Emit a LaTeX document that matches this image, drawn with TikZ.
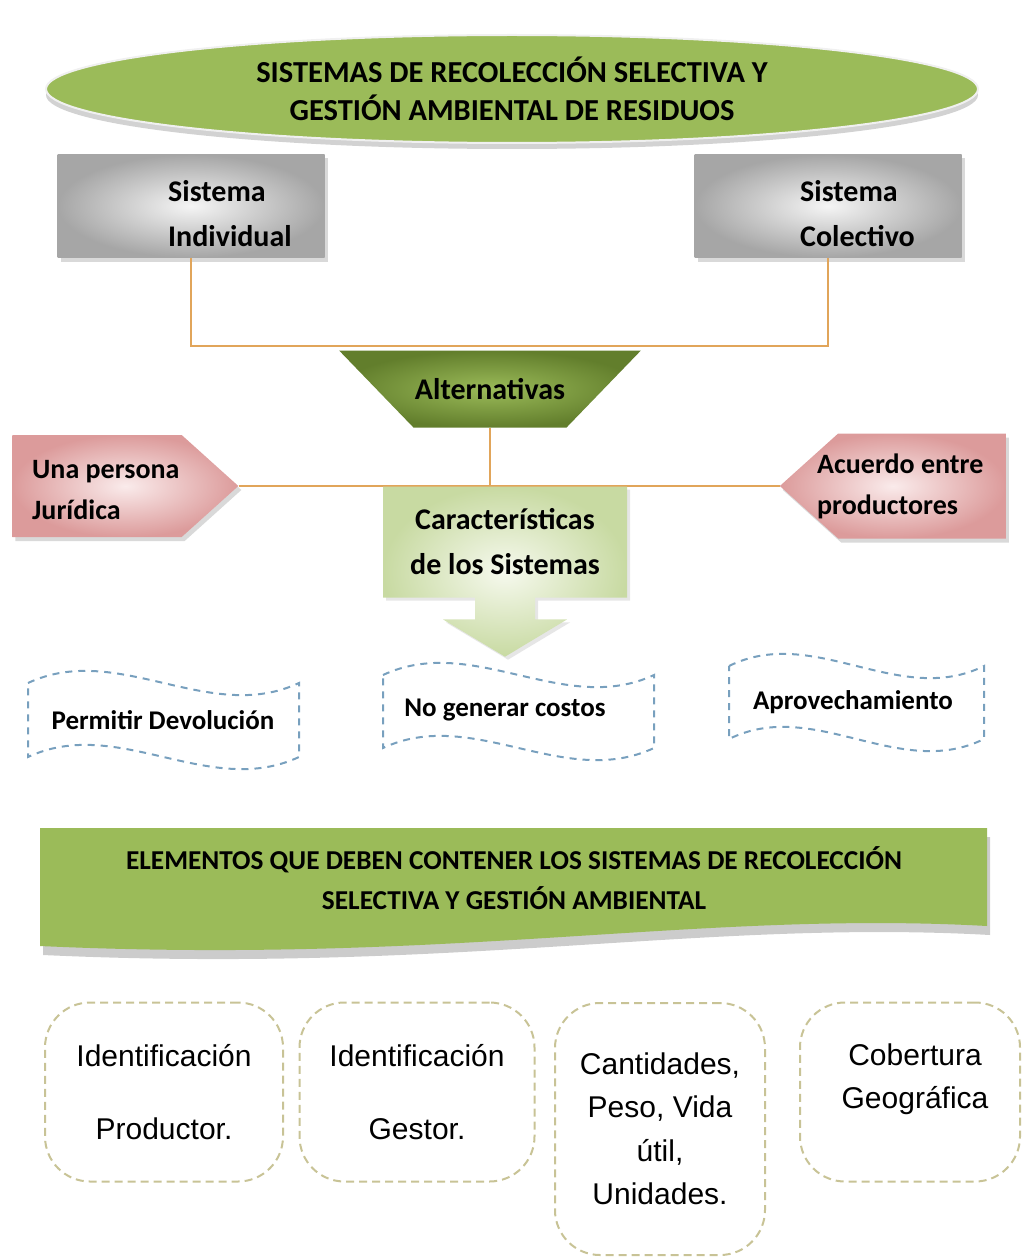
\documentclass[tikz,border=0pt]{standalone}
\usepackage{fontspec}
\setmainfont{Carlito}
\newfontfamily\arialfont{Liberation Sans}
\usetikzlibrary{shapes.geometric,shapes.symbols,shapes.arrows,shadows,positioning}
\definecolor{oliva}{RGB}{155,187,89}
\definecolor{olivaosc}{RGB}{98,126,44}
\definecolor{rosa}{RGB}{220,155,155}
\definecolor{rosaclaro}{RGB}{250,235,235}
\definecolor{verdeclaro}{RGB}{200,218,162}
\definecolor{verdeblanco}{RGB}{246,249,238}
\definecolor{linkc}{RGB}{225,165,90}
\definecolor{azulonda}{RGB}{120,160,190}
\definecolor{caqui}{RGB}{200,195,150}

\begin{document}
\begin{tikzpicture}[x=1pt,y=-1pt,
every node/.style={inner sep=0pt},
titulo/.style={ellipse, fill=oliva, draw=gray!12, line width=2pt, minimum width=932, minimum height=108, align=center, font=\bfseries\fontsize{30.5}{38}\selectfont, drop shadow={shadow xshift=0pt, shadow yshift=-6pt, fill=gray!35, opacity=1}},
sistema/.style={rectangle, minimum width=267, minimum height=103, inner color=gray!8, outer color=gray!70, drop shadow={opacity=.3, shadow xshift=3pt, shadow yshift=-4pt}},
txt/.style={align=left, font=\bfseries\fontsize{30}{45}\selectfont},
link/.style={draw=linkc, line width=2pt},
altern/.style={trapezium, shape border rotate=180, trapezium left angle=46, trapezium right angle=46, text height=23pt, text depth=3pt, inner ysep=25.5pt, inner xsep=1.5pt, inner color=oliva, outer color=olivaosc, font=\bfseries\fontsize{30}{36}\selectfont},
senal/.style={signal, signal from=nowhere, signal pointer angle=84, minimum width=226, minimum height=102, inner color=rosaclaro, outer color=rosa, drop shadow={opacity=.3, shadow xshift=3pt, shadow yshift=-4pt}},
pentxt/.style={align=left, font=\bfseries\fontsize{28}{41}\selectfont},
carac/.style={arrow box, arrow box arrows={south:59pt from border}, arrow box shaft width=60pt, arrow box head extend=32pt, arrow box head indent=0pt, arrow box tip angle=118, minimum width=244, minimum height=111, inner color=verdeblanco, outer color=verdeclaro, align=center, font=\bfseries\fontsize{30}{45}\selectfont, drop shadow={opacity=.2, shadow xshift=3pt, shadow yshift=-3pt}},
onda/.style={draw=azulonda, line width=2pt, dash pattern=on 7pt off 6pt},
ondatxt/.style={font=\bfseries\fontsize{27}{32}\selectfont},
banda/.style={fill=oliva, drop shadow={shadow xshift=3pt, shadow yshift=-9pt, fill=gray!40, opacity=1}},
bandatxt/.style={align=center, font=\bfseries\fontsize{27.3}{40}\selectfont},
elem/.style={draw=caqui, line width=2pt, dash pattern=on 8pt off 5pt, rounded corners=45pt, align=center, font=\arialfont\fontsize{30}{43.5}\selectfont},
elemtxt/.style={align=center, font=\arialfont\fontsize{30}{43.5}\selectfont}
]
\useasboundingbox (0,0) rectangle (1024,1257);
\node[titulo] (titulo) at (512,89) {SISTEMAS DE RECOLECCIÓN SELECTIVA Y\\GESTIÓN AMBIENTAL DE RESIDUOS};
\node[sistema] (sInd) at (191,206) {};
\node[sistema] (sCol) at (828,206) {};
\node[txt, anchor=west] (tInd) at (168,214) {Sistema\\Individual};
\node[txt, anchor=west] (tCol) at (800,214) {Sistema\\Colectivo};
\coordinate (union) at (490,346);
\draw[link] (sInd.south) |- (union) -| (sCol.south);
\node[altern] (alt) at (490,389) {Alternativas};
\node[senal, signal to=east] (pUna) at (97,486) {};
\node[senal, signal to=west, minimum height=105] (pAcu) at (922,486) {};
\node[pentxt, anchor=west] (tUna) at (32,490) {Una persona\\Jurídica};
\node[pentxt, anchor=west] (tAcu) at (817,486) {Acuerdo entre\\productores};
\draw[link] (pUna.east) -- (pAcu.west);
\draw[link] (alt.south) -- (alt.south |- pUna.east);
\node[carac] (carac) at (505,542) {Características\\de los Sistemas};
\draw[onda] (28,683) .. controls (118,641) and (209,725) .. (299,683) -- (299,757) .. controls (209,799) and (118,715) .. (28,757) -- cycle;
\draw[onda] (383,675) .. controls (473,633) and (564,717) .. (654,675) -- (654,748) .. controls (564,790) and (473,706) .. (383,748) -- cycle;
\draw[onda] (729,666) .. controls (814,624) and (899,708) .. (984,666) -- (984,739) .. controls (899,781) and (814,697) .. (729,739) -- cycle;
\node[ondatxt] (devol) at (163,720) {Permitir Devolución};
\node[ondatxt] (costos) at (505,710) {No generar costos};
\node[ondatxt] (aprov) at (853,702) {Aprovechamiento};
\path[banda] (40,828) -- (987,828) -- (987,926) .. controls (700,910) and (450,965) .. (40,946) -- cycle;
\node[bandatxt] (elem) at (514,878) {ELEMENTOS QUE DEBEN CONTENER LOS SISTEMAS DE RECOLECCIÓN\\SELECTIVA Y GESTIÓN AMBIENTAL};
\node[elem, minimum width=238, minimum height=179] (prod) at (164,1092) {Identificación\\[29pt]Productor.};
\node[elem, minimum width=235, minimum height=179] (gest) at (417,1092) {Identificación\\[29pt]Gestor.};
\node[elem, minimum width=210, minimum height=252] (cant) at (660,1129) {Cantidades,\\Peso, Vida\\útil,\\Unidades.};
\node[elem, minimum width=220, minimum height=179] (cobe) at (910,1092) {};
\node[elemtxt] (cobt) at (915,1079) {Cobertura\\Geográfica};
\end{tikzpicture}
\end{document}
